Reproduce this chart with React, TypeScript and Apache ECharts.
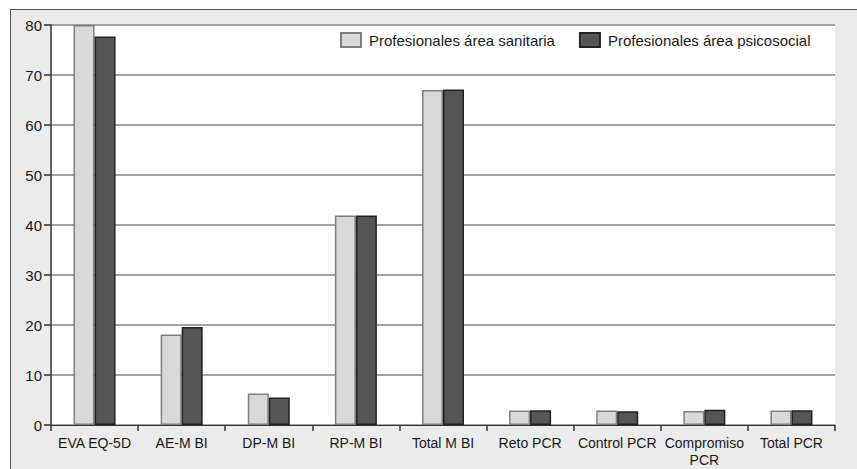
import React, { useEffect, useRef } from "react";
import * as echarts from "echarts";

const categories = [
  "EVA EQ-5D",
  "AE-M BI",
  "DP-M BI",
  "RP-M BI",
  "Total M BI",
  "Reto PCR",
  "Control PCR",
  "Compromiso PCR",
  "Total PCR",
];
const sanitaria = [80, 18.1, 6.3, 41.9, 67.0, 2.9, 2.9, 2.8, 2.9];
const psicosocial = [77.7, 19.6, 5.5, 41.9, 67.1, 2.95, 2.75, 3.05, 2.95];
const seriesNames = ["Profesionales área sanitaria", "Profesionales área psicosocial"];

const FONT = "Arial, 'Liberation Sans', sans-serif";

export default function App() {
  const ref = useRef<HTMLDivElement>(null);
  useEffect(() => {
    if (!ref.current) return;
    const chart = echarts.init(ref.current, undefined, { renderer: "svg" });
    chart.setOption({
      animation: false,
      backgroundColor: "#ebebeb",
      textStyle: { fontFamily: FONT },
      graphic: [
        {
          type: "line",
          z: 100,
          shape: { x1: 0.5, y1: 0, x2: 0.5, y2: 470 },
          style: { stroke: "#555555", lineWidth: 1 },
        },
        {
          type: "line",
          z: 100,
          shape: { x1: 0, y1: 0.5, x2: 900, y2: 0.5 },
          style: { stroke: "#555555", lineWidth: 1 },
        },
      ],
      grid: {
        left: 41,
        top: 16,
        width: 784,
        height: 400,
        show: true,
        backgroundColor: "#ffffff",
        borderWidth: 0,
      },
      legend: {
        left: 330,
        top: 23,
        padding: 0,
        icon: "rect",
        itemWidth: 20,
        itemHeight: 14,
        itemGap: 24,
        textStyle: { fontFamily: FONT, fontSize: 15, color: "#1a1a1a", padding: [0, 0, 0, 3] },
        data: seriesNames,
      },
      xAxis: {
        type: "category",
        data: categories,
        axisLine: { show: true, lineStyle: { color: "#333333", width: 1 } },
        axisTick: { show: true, length: 6, lineStyle: { color: "#333333", width: 1.5 } },
        axisLabel: {
          fontFamily: FONT,
          fontSize: 14,
          color: "#1a1a1a",
          margin: 9,
          lineHeight: 17,
          interval: 0,
          formatter: (v: string) => (v === "Compromiso PCR" ? "Compromiso\nPCR" : v),
        },
      },
      yAxis: {
        type: "value",
        min: 0,
        max: 80,
        interval: 10,
        axisLine: { show: true, lineStyle: { color: "#333333", width: 1.5 } },
        axisTick: { show: true, length: 7, lineStyle: { color: "#333333", width: 1.5 } },
        axisLabel: { fontFamily: FONT, fontSize: 15, color: "#1a1a1a", margin: 9 },
        splitLine: { show: true, lineStyle: { color: "#858585", width: 1.5 } },
      },
      series: [
        {
          name: seriesNames[0],
          type: "bar",
          data: sanitaria,
          barWidth: 21,
          barGap: "0%",
          itemStyle: { color: "#d9d9d9", borderColor: "#7f7f7f", borderWidth: 1.5 },
        },
        {
          name: seriesNames[1],
          type: "bar",
          data: psicosocial,
          barWidth: 21,
          barGap: "0%",
          itemStyle: { color: "#555555", borderColor: "#222222", borderWidth: 1.5 },
        },
      ],
    });
    return () => chart.dispose();
  }, []);
  return (
    <div style={{ position: "fixed", left: 0, top: 0, width: 857, height: 469, background: "#ffffff" }}>
      <div
        ref={ref}
        style={{
          position: "absolute",
          left: 10,
          top: 9,
          width: 847,
          height: 460,
          background: "#ebebeb",
        }}
      />
    </div>
  );
}
